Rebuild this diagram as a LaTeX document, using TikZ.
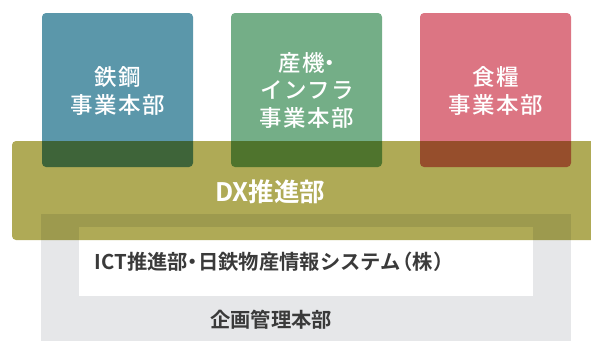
\documentclass[tikz,border=0pt]{standalone}
\usepackage{fontspec}
\newfontfamily\jp[LetterSpace=6]{Noto Sans CJK JP Medium}
\newfontfamily\jpb{Noto Sans CJK JP Bold}
\definecolor{cblue}{HTML}{5B97AA}
\definecolor{cgreen}{HTML}{74AE87}
\definecolor{cred}{HTML}{DC7583}
\definecolor{colive}{HTML}{AFAA56}
\definecolor{cgray}{HTML}{E6E7E9}
\definecolor{ctext}{HTML}{3A3A3A}
\newcommand{\ndot}{\kern-0.25em・\kern-0.25em}
\newcommand{\lpar}{\kern-0.4em（}
\newcommand{\rpar}{）\kern-0.4em}
\tikzset{
  divbox/.style={rounded corners=4pt},
  divtext/.style={text=white, font=\jp\fontsize{22.5}{27.5}\selectfont, align=center, inner sep=0pt},
  darktext/.style={text=ctext, font=\jpb\fontsize{20.3}{24}\selectfont, inner sep=0pt},
}
\begin{document}
\begin{tikzpicture}[x=1pt,y=-1pt]
\useasboundingbox (0,0) rectangle (591,341);
% division boxes
\fill[cblue, divbox] (42,13) rectangle (193,167);
\fill[cgreen, divbox] (231,13) rectangle (382,167);
\fill[cred, divbox] (420,13) rectangle (571,167);
% planning band
\fill[cgray] (41,214) rectangle (571,341);
\fill[white] (79,227) rectangle (533,296);
% DX band
\begin{scope}[blend mode=multiply]
\fill[colive] (591,141) [rounded corners=4pt] -- (12,141) -- (12,240) [sharp corners] -- (591,240) -- cycle;
\end{scope}
% texts
\node[divtext] (t1) at (118,91) {鉄鋼\\事業本部};
\node[divtext] (t2) at (307,90) {産機\ndot\\インフラ\\事業本部};
\node[divtext] (t3) at (496,91) {食糧\\事業本部};
\node[text=white, font=\jpb\fontsize{25.5}{30}\selectfont, inner sep=0pt] (dx) at (270,192) {DX推進部};
\node[darktext] (ict) at (270,262) {ICT推進部\ndot 日鉄物産情報システム\lpar 株\rpar};
\node[darktext] (plan) at (271,320) {企画管理本部};
\end{tikzpicture}
\end{document}
